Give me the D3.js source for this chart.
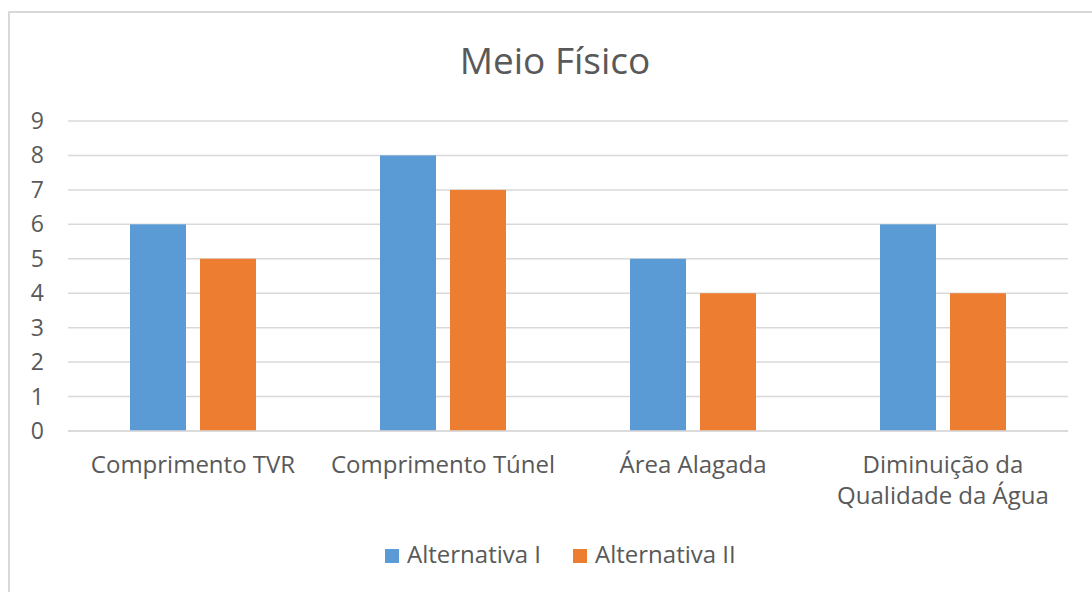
<!DOCTYPE html>
<html>
<head>
<meta charset="utf-8">
<script src="https://cdn.jsdelivr.net/npm/d3@7"></script>
<style>
  body { margin: 0; background: #fff; }
  svg text { font-family: "Open Sans", Lato, sans-serif; fill: #595959; }
</style>
</head>
<body>
<svg id="vis"></svg>
<script>
// chart data
var categories = [["Comprimento TVR"], ["Comprimento Túnel"], ["Área Alagada"], ["Diminuição da", "Qualidade da Água"]];
var seriesNames = ["Alternativa I", "Alternativa II"];
var alt1 = [6, 8, 5, 6];
var alt2 = [5, 7, 4, 4];
var yTicks = [0, 1, 2, 3, 4, 5, 6, 7, 8, 9];
var colors = ["#5B9BD5", "#ED7D31"];

const WIDTH = 1092;
const HEIGHT = 592;
const LEFT = 68, RIGHT = 1068, TOP = 121, BOTTOM = 431;

let svg = d3.select("#vis")
    .attr("width", WIDTH)
    .attr("height", HEIGHT);

// outer frame
svg.append("rect")
    .attr("x", 9).attr("y", 12)
    .attr("width", 1100).attr("height", 600)
    .attr("fill", "#fff")
    .attr("stroke", "#D9D9D9")
    .attr("stroke-width", 2);

svg.append("text")
    .attr("x", 555).attr("y", 74)
    .attr("text-anchor", "middle")
    .attr("font-size", "37px")
    .text("Meio Físico");

let yScale = d3.scaleLinear().domain([0, 9]).range([BOTTOM, TOP]);
let x0 = d3.scaleBand().domain(d3.range(categories.length)).range([LEFT, RIGHT]);
let x1 = d3.scaleBand().domain(d3.range(seriesNames.length)).range([0, 126]).paddingInner(0.2);
let groupOffset = (x0.bandwidth() - 126) / 2;

// gridlines + y labels
svg.selectAll("line.grid")
    .data(yTicks)
    .enter()
    .append("line")
    .attr("class", "grid")
    .attr("x1", LEFT).attr("x2", RIGHT)
    .attr("y1", function(d) { return yScale(d); })
    .attr("y2", function(d) { return yScale(d); })
    .attr("stroke", "#D9D9D9")
    .attr("stroke-width", 1.5);

svg.selectAll("text.ytick")
    .data(yTicks)
    .enter()
    .append("text")
    .attr("class", "ytick")
    .attr("x", 44)
    .attr("y", function(d) { return yScale(d) + 8; })
    .attr("text-anchor", "end")
    .attr("font-size", "23px")
    .text(function(d) { return d; });

// bars
var allSeries = [alt1, alt2];
allSeries.forEach(function(vals, s) {
    svg.selectAll("rect.s" + s)
        .data(vals)
        .enter()
        .append("rect")
        .attr("class", "s" + s)
        .attr("x", function(d, i) { return x0(i) + groupOffset + x1(s); })
        .attr("y", function(d) { return yScale(d); })
        .attr("width", x1.bandwidth())
        .attr("height", function(d) { return BOTTOM - yScale(d); })
        .attr("fill", colors[s]);
});

// redraw zero line on top of bars
svg.append("line")
    .attr("x1", LEFT).attr("x2", RIGHT)
    .attr("y1", yScale(0)).attr("y2", yScale(0))
    .attr("stroke", "#D9D9D9")
    .attr("stroke-width", 1.5);

// category labels
categories.forEach(function(lines, i) {
    let t = svg.append("text")
        .attr("x", x0(i) + x0.bandwidth() / 2)
        .attr("y", 473)
        .attr("text-anchor", "middle")
        .attr("font-size", "24px");
    lines.forEach(function(line, k) {
        t.append("tspan")
            .attr("x", x0(i) + x0.bandwidth() / 2)
            .attr("dy", k === 0 ? 0 : 31)
            .text(line);
    });
});

// legend
var legendX = [385, 573];
seriesNames.forEach(function(name, s) {
    svg.append("rect")
        .attr("x", legendX[s]).attr("y", 549)
        .attr("width", 14).attr("height", 14)
        .attr("fill", colors[s]);
    svg.append("text")
        .attr("x", legendX[s] + 22).attr("y", 563)
        .attr("font-size", "24px")
        .text(name);
});
</script>
</body>
</html>
